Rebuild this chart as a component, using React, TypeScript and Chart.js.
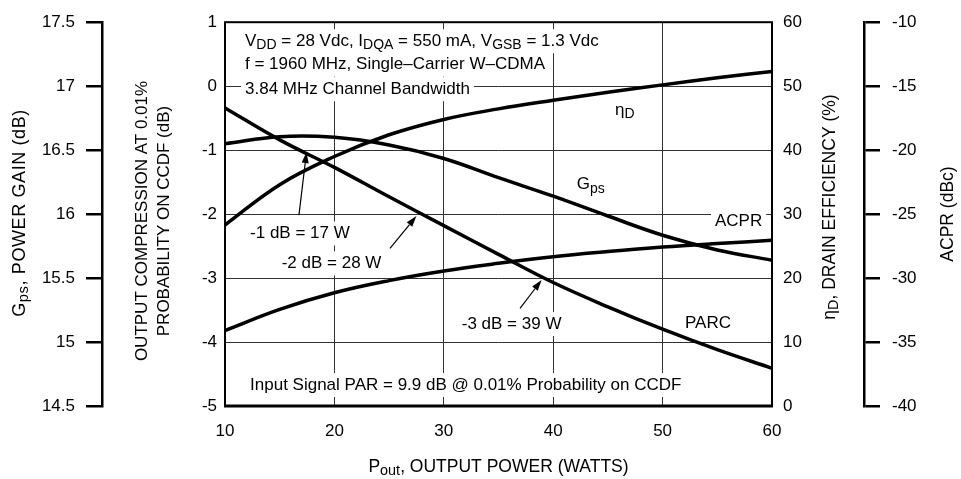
import React, { useEffect, useRef } from "react";
import { Chart, registerables } from "chart.js";

Chart.register(...registerables);

// ---- data ----
const poutW = [10, 15, 20, 25, 30, 35, 40, 45, 50, 55, 60];
const parcDb = [-0.34, -0.84, -1.27, -1.73, -2.18, -2.63, -3.07, -3.45, -3.8, -4.12, -4.41];
const gpsDb = [16.55, 16.605, 16.6, 16.54, 16.435, 16.285, 16.14, 15.985, 15.835, 15.72, 15.64];
const etaPct = [28.3, 34.6, 39.0, 42.4, 44.8, 46.45, 47.8, 49.05, 50.2, 51.3, 52.3];
const acprDbc = [-34.1, -32.45, -31.15, -30.2, -29.45, -28.85, -28.33, -27.93, -27.58, -27.3, -27.05];

const xTickValues = [10, 20, 30, 40, 50, 60];
const parcTickValues = [-5, -4, -3, -2, -1, 0, 1];
const gpsTickValues = [14.5, 15, 15.5, 16, 16.5, 17, 17.5];
const etaTickValues = [0, 10, 20, 30, 40, 50, 60];
const acprTickValues = [-40, -35, -30, -25, -20, -15, -10];

// ---- styling / layout ----
const FONT = '"Liberation Sans", Arial, Helvetica, sans-serif';
const FS = 17;
const SUB = 14;
const SUB_DY = 4;
const GRID = "#333";
const GPS_W = 102;
const PARC_W = 123;
const ETA_W = 92;
const ACPR_W = 97;
const X_H = 73;
const TOP_PAD = 22;

type Part = { t: string; sub?: boolean };
const P = (t: string, sub = false): Part => ({ t, sub });

const notes: { x: number; y: number; parts: Part[] }[] = [
  { x: 11.83, y: 0.703, parts: [P("V"), P("DD", true), P(" = 28 Vdc, I"), P("DQA", true), P(" = 550 mA, V"), P("GSB", true), P(" = 1.3 Vdc")] },
  { x: 11.83, y: 0.336, parts: [P("f = 1960 MHz, Single\u2013Carrier W\u2013CDMA")] },
  { x: 11.83, y: -0.047, parts: [P("3.84 MHz Channel Bandwidth")] },
  { x: 12.29, y: -2.302, parts: [P("-1 dB = 17 W")] },
  { x: 15.18, y: -2.77, parts: [P("-2 dB = 28 W")] },
  { x: 31.64, y: -3.719, parts: [P("-3 dB = 39 W")] },
  { x: 52.05, y: -3.708, parts: [P("PARC")] },
  { x: 54.79, y: -2.12, parts: [P("ACPR")] },
  { x: 42.15, y: -1.54, parts: [P("G"), P("ps", true)] },
  { x: 45.65, y: -0.375, parts: [P("\u03b7"), P("D", true)] },
  { x: 12.29, y: -4.672, parts: [P("Input Signal PAR = 9.9 dB @ 0.01% Probability on CCDF")] },
];

const arrows = [
  { from: [16.76, -2.016], to: [17.45, -1.03] },
  { from: [25.08, -2.536], to: [27.5, -2.03] },
  { from: [36.97, -3.473], to: [38.94, -3.03] },
];

const titles: { x: number; y: number; parts: Part[]; size?: number; ls?: number }[] = [
  { x: 20, y: 213, parts: [P("G"), P("ps", true), P(", POWER GAIN (dB)")], size: 18, ls: 0.6 },
  { x: 142, y: 221, parts: [P("OUTPUT COMPRESSION AT 0.01%")] },
  { x: 164, y: 221, parts: [P("PROBABILITY ON CCDF (dB)")] },
  { x: 830, y: 207, parts: [P("\u03b7"), P("D", true), P(", DRAIN EFFICIENCY (%)")], size: 17.5 },
  { x: 948, y: 214, parts: [P("ACPR (dBc)")], size: 17.5 },
];
const xTitle: Part[] = [P("P"), P("out", true), P(", OUTPUT POWER (WATTS)")];

const fnt = (s: number) => `${s}px ${FONT}`;

function drawParts(
  ctx: CanvasRenderingContext2D,
  parts: Part[],
  x: number,
  y: number,
  align: "left" | "center",
  rot: number,
  box: boolean,
  size = FS,
  ls = 0
) {
  ctx.save();
  ctx.translate(x, y);
  if (rot) ctx.rotate(rot);
  (ctx as any).letterSpacing = `${ls}px`;
  const subSize = SUB * (size / FS);
  let w = 0;
  for (const p of parts) {
    ctx.font = fnt(p.sub ? subSize : size);
    w += ctx.measureText(p.t).width;
  }
  let cx = align === "center" ? -w / 2 : 0;
  if (box) {
    ctx.fillStyle = "#fff";
    ctx.fillRect(cx - 4, -12, w + 8, 24);
  }
  ctx.fillStyle = "#000";
  ctx.textBaseline = "middle";
  ctx.textAlign = "left";
  for (const p of parts) {
    ctx.font = fnt(p.sub ? subSize : size);
    ctx.fillText(p.t, cx, p.sub ? SUB_DY : 0);
    cx += ctx.measureText(p.t).width;
  }
  ctx.restore();
}

const decor = {
  id: "decor",
  beforeDatasetsDraw(chart: any) {
    const { ctx, scales } = chart;
    const xs = scales.x;
    const ys = scales.y;
    for (const n of notes) {
      drawParts(ctx, n.parts, xs.getPixelForValue(n.x), ys.getPixelForValue(n.y), "left", 0, true);
    }
    ctx.save();
    ctx.strokeStyle = "#000";
    ctx.fillStyle = "#000";
    ctx.lineWidth = 1.2;
    for (const a of arrows) {
      const x0 = xs.getPixelForValue(a.from[0]);
      const y0 = ys.getPixelForValue(a.from[1]);
      const x1 = xs.getPixelForValue(a.to[0]);
      const y1 = ys.getPixelForValue(a.to[1]);
      const ang = Math.atan2(y1 - y0, x1 - x0);
      const hl = 11;
      const hw = 3.5;
      const bx = x1 - hl * Math.cos(ang);
      const by = y1 - hl * Math.sin(ang);
      ctx.beginPath();
      ctx.moveTo(x0, y0);
      ctx.lineTo(bx, by);
      ctx.stroke();
      ctx.beginPath();
      ctx.moveTo(x1, y1);
      ctx.lineTo(bx + hw * Math.sin(ang), by - hw * Math.cos(ang));
      ctx.lineTo(bx - hw * Math.sin(ang), by + hw * Math.cos(ang));
      ctx.closePath();
      ctx.fill();
    }
    ctx.restore();
  },
  afterDatasetsDraw(chart: any) {
    const { ctx, chartArea: a } = chart;
    ctx.save();
    ctx.strokeStyle = "#000";
    ctx.lineWidth = 2;
    ctx.strokeRect(a.left, a.top, a.right - a.left, a.bottom - a.top);
    ctx.lineWidth = 3;
    ctx.beginPath();
    ctx.moveTo(a.left - 1, a.bottom);
    ctx.lineTo(a.right + 1, a.bottom);
    ctx.stroke();
    ctx.restore();
  },
  afterDraw(chart: any) {
    const { ctx, chartArea: a } = chart;
    for (const t of titles) drawParts(ctx, t.parts, t.x, t.y, "center", -Math.PI / 2, false, t.size ?? FS, t.ls ?? 0);
    drawParts(ctx, xTitle, (a.left + a.right) / 2, 467, "center", 0, false, 17.5);
  },
};

const setTicks = (vals: number[]) => (s: any) => {
  s.ticks = vals.map((v) => ({ value: v }));
};
const tickFont = { family: FONT, size: FS };
const label = (v: any) => String(v);

export default function App() {
  const ref = useRef<HTMLCanvasElement>(null);
  useEffect(() => {
    const mk = (d: number[], axis: string) => ({
      data: poutW.map((x, i) => ({ x, y: d[i] })),
      yAxisID: axis,
      borderColor: "#000",
      borderWidth: 3.5,
      pointRadius: 0,
      tension: 0.4,
      fill: false,
    });
    const chart = new Chart(ref.current!, {
      type: "line",
      data: {
        datasets: [
          { label: "PARC", ...mk(parcDb, "y") },
          { label: "Gps", ...mk(gpsDb, "yGps") },
          { label: "etaD", ...mk(etaPct, "yEta") },
          { label: "ACPR", ...mk(acprDbc, "yAcpr") },
        ],
      },
      options: {
        responsive: false,
        animation: false,
        events: [],
        layout: { padding: { top: TOP_PAD, left: 0, right: 0, bottom: 0 } },
        plugins: { legend: { display: false }, tooltip: { enabled: false } },
        scales: {
          x: {
            type: "linear",
            position: "bottom",
            min: 10,
            max: 60,
            afterBuildTicks: setTicks(xTickValues),
            afterFit: (s: any) => { s.height = X_H; },
            grid: { color: GRID, lineWidth: 1, drawTicks: false },
            border: { display: false },
            ticks: { padding: 15, font: tickFont, color: "#000", callback: label, maxRotation: 0, autoSkip: false },
          },
          y: {
            type: "linear",
            position: "left",
            weight: 0,
            min: -5,
            max: 1,
            afterBuildTicks: setTicks(parcTickValues),
            afterFit: (s: any) => { s.width = PARC_W; },
            grid: { color: GRID, lineWidth: 1, drawTicks: false },
            border: { display: false },
            ticks: { padding: 8, font: tickFont, color: "#000", callback: label, autoSkip: false },
          },
          yGps: {
            type: "linear",
            position: "left",
            weight: 1,
            min: 14.5,
            max: 17.5,
            afterBuildTicks: setTicks(gpsTickValues),
            afterFit: (s: any) => { s.width = GPS_W; },
            grid: { drawOnChartArea: false, drawTicks: true, tickLength: 16, color: "#000", lineWidth: 2.5 },
            border: { display: true, color: "#000", width: 2.5 },
            ticks: { padding: 11, font: tickFont, color: "#000", callback: label, autoSkip: false },
          },
          yEta: {
            type: "linear",
            position: "right",
            weight: 0,
            min: 0,
            max: 60,
            afterBuildTicks: setTicks(etaTickValues),
            afterFit: (s: any) => { s.width = ETA_W; },
            grid: { display: false, drawOnChartArea: false, drawTicks: false },
            border: { display: false },
            ticks: { padding: 11, font: tickFont, color: "#000", callback: label, autoSkip: false },
          },
          yAcpr: {
            type: "linear",
            position: "right",
            weight: 1,
            min: -40,
            max: -10,
            afterBuildTicks: setTicks(acprTickValues),
            afterFit: (s: any) => { s.width = ACPR_W; },
            grid: { drawOnChartArea: false, drawTicks: true, tickLength: 16, color: "#000", lineWidth: 2.5 },
            border: { display: true, color: "#000", width: 2.5 },
            ticks: { padding: 12, font: tickFont, color: "#000", callback: label, autoSkip: false },
          },
        },
      } as any,
      plugins: [decor],
    });
    return () => chart.destroy();
  }, []);
  return (
    <div style={{ position: "fixed", left: 0, top: 0, width: 961, height: 479, background: "#fff" }}>
      <canvas ref={ref} width={961} height={479} style={{ display: "block", width: 961, height: 479 }} />
    </div>
  );
}
